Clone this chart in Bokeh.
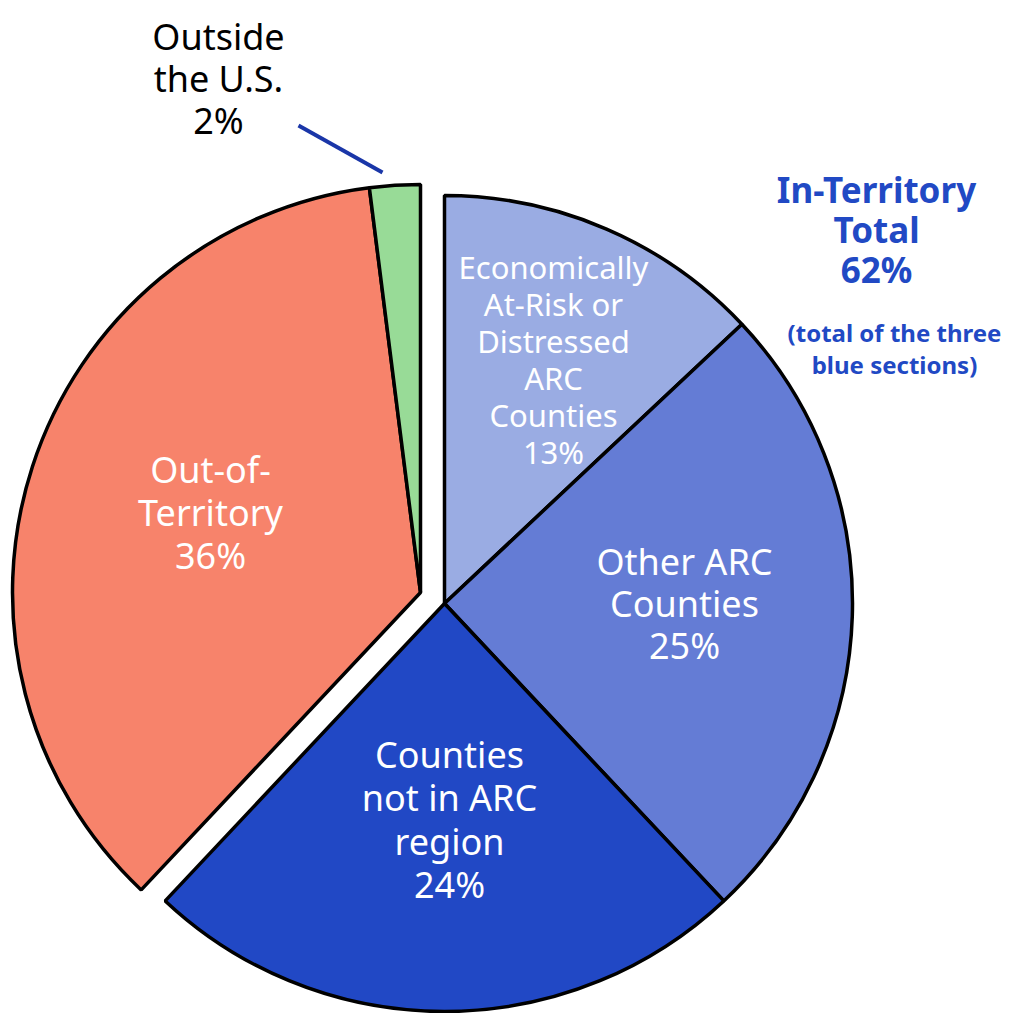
import math
from bokeh.plotting import figure
from bokeh.models import Range1d, ColumnDataSource
from bokeh.core.properties import value
from bokeh.embed import file_html
from bokeh.resources import INLINE

# ---- data ----
categories = ["Economically\nAt-Risk or\nDistressed\nARC\nCounties",
              "Other ARC\nCounties",
              "Counties\nnot in ARC\nregion",
              "Out-of-\nTerritory",
              "Outside\nthe U.S."]
shares = [13, 25, 24, 36, 2]
groups = ["in", "in", "in", "out", "out"]
colors = ["#9AACE3", "#647CD5", "#2148C5", "#F7836B", "#98DB97"]
in_total = 62

W, H = 1010, 1013
def py(y):  # pixel row -> data y
    return 1015 - y

p = figure(width=W, height=H, output_backend="svg", toolbar_location=None,
           x_range=Range1d(0, W), y_range=Range1d(py(H), py(0)),
           min_border=0)
p.axis.visible = False
p.grid.visible = False
p.outline_line_color = None
p.background_fill_color = "white"

centers = {"in": (444, py(603)), "out": (420, py(592))}
R = 408
font = value("Noto Sans")

total = sum(shares)
cum = 0.0
xs, ys, starts, ends = [], [], [], []
for s, g in zip(shares, groups):
    t1 = cum / total * 2 * math.pi
    t2 = (cum + s) / total * 2 * math.pi
    cum += s
    cx, cy = centers[g]
    xs.append(cx); ys.append(cy)
    starts.append(math.pi / 2 - t2)
    ends.append(math.pi / 2 - t1)

src = ColumnDataSource(dict(x=xs, y=ys, start=starts, end=ends, color=colors))
p.wedge(x="x", y="y", radius=R, start_angle="start", end_angle="end",
        fill_color="color", line_color="black", line_width=3.5, source=src)

# inside labels (first four slices)
lab_x = [553, 684, 449, 210]
lab_y = [py(359), py(603), py(819), py(512)]
lab = ColumnDataSource(dict(
    x=lab_x, y=lab_y,
    text=[f"{c}\n{s}%" for c, s in zip(categories[:4], shares[:4])],
    size=["31px", "36px", "36px", "36px"],
    lh=[0.885, 0.86, 0.88, 0.875]))
p.text(x="x", y="y", text="text", text_font_size="size", source=lab,
       text_color="white", text_align="center", text_baseline="middle",
       text_font=font, text_line_height="lh")

# outside label
p.text(x=[218], y=[py(78)], text=[f"{categories[4]}\n{shares[4]}%"],
       text_font_size="36px", text_color="black", text_align="center",
       text_baseline="middle", text_font=font, text_line_height=0.86)
p.line(x=[298, 382], y=[py(125), py(172)], line_color="#1A36A8", line_width=4)

# in-territory annotation
p.text(x=[876], y=[py(229)], text=[f"In-Territory\nTotal\n{in_total}%"],
       text_font_size="35px", text_color="#2149C4", text_align="center",
       text_baseline="middle", text_font=font, text_font_style="bold",
       text_line_height=0.86)
p.text(x=[894], y=[py(348)], text=["(total of the three\nblue sections)"],
       text_font_size="24px", text_color="#2149C4", text_align="center",
       text_baseline="middle", text_font=font, text_font_style="bold",
       text_line_height=0.97)

open("out.html", "w").write(file_html(p, INLINE))
